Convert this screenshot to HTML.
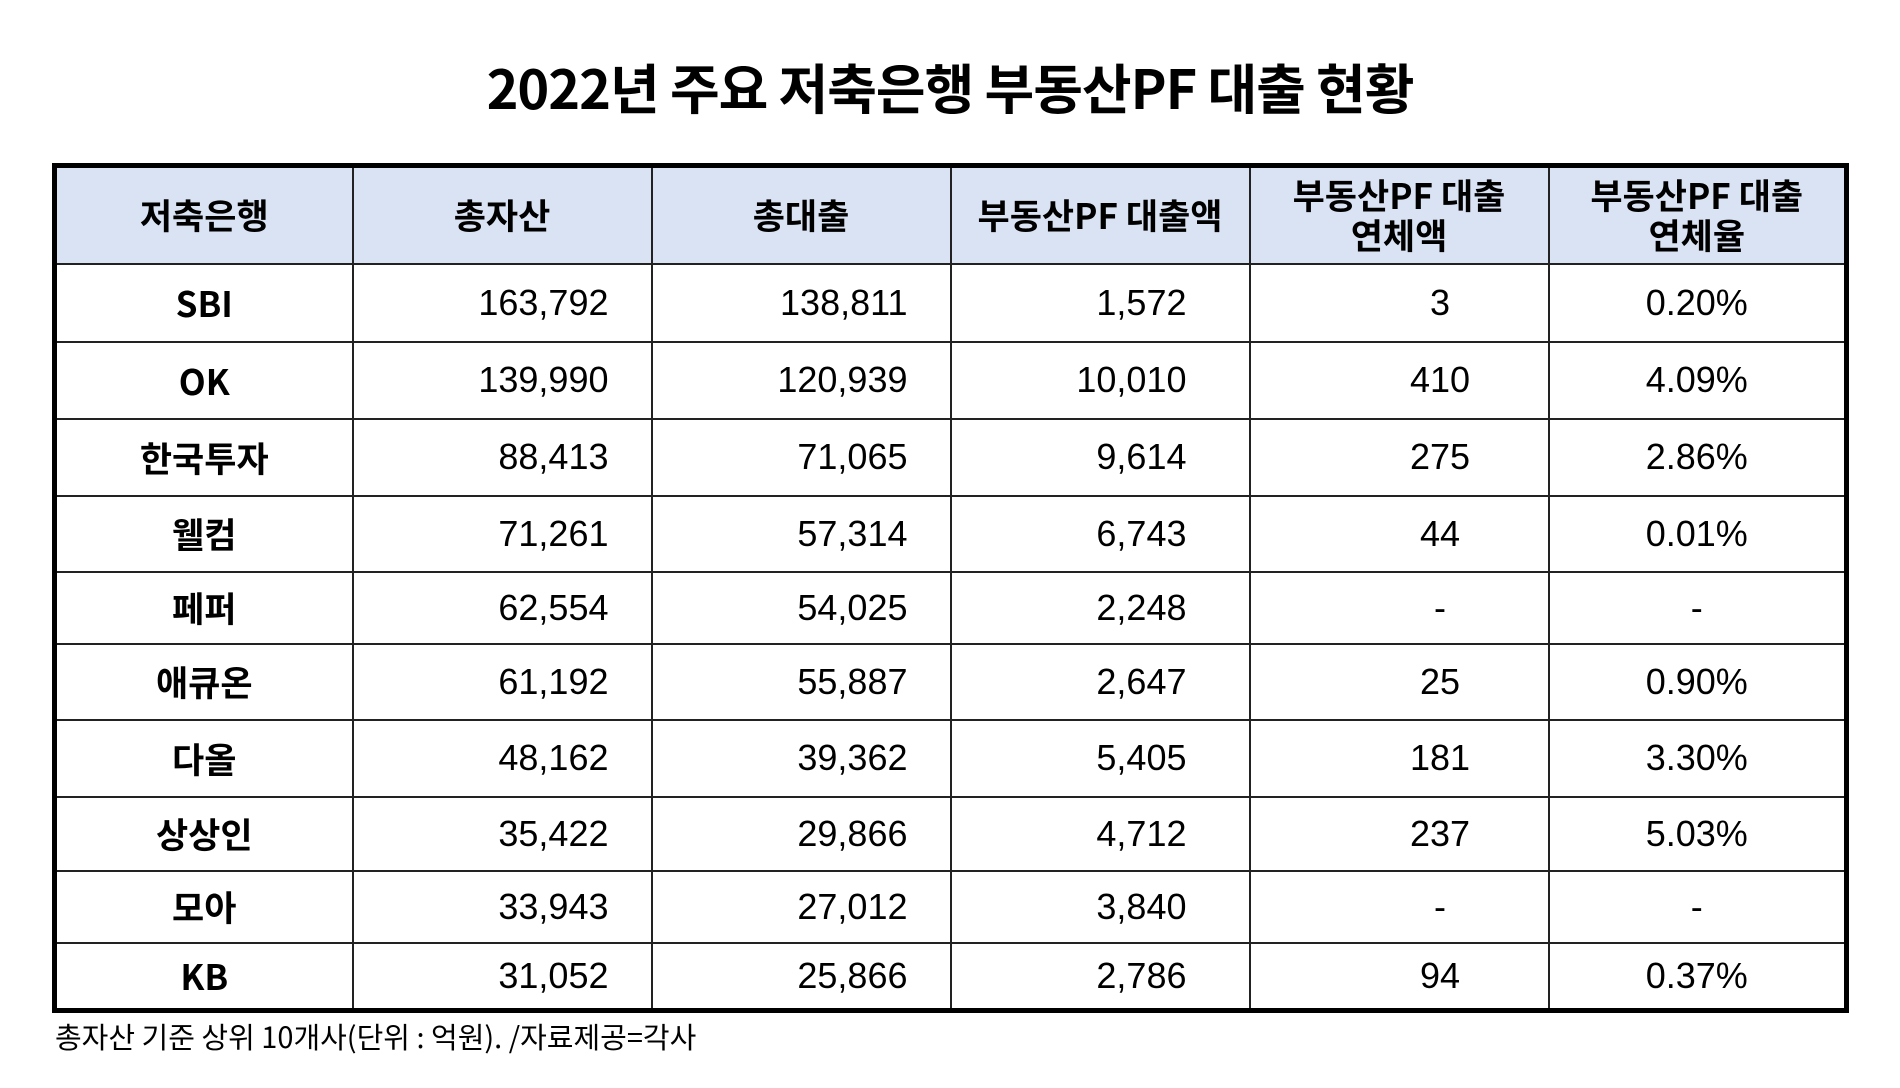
<!DOCTYPE html>
<html><head><meta charset="utf-8"><style>
body{margin:0;width:1900px;height:1088px;background:#fff;font-family:"Liberation Sans","Noto Sans CJK KR",sans-serif;position:relative;overflow:hidden}
.title{position:absolute;top:46px;left:0;width:1900px;text-align:center;font-size:54px;font-weight:bold;font-family:"Noto Sans CJK KR",sans-serif;letter-spacing:-1px}
table{position:absolute;left:52px;top:163px;border-collapse:collapse;border:5px solid #000;table-layout:fixed}
td,th{border:2px solid #222;font-size:36px;padding:0;white-space:nowrap}
th{background:#dae3f3;font-family:"Noto Sans CJK KR",sans-serif;font-weight:bold;line-height:40px;font-size:35px}
td:first-child{text-align:center;font-family:"Noto Sans CJK KR",sans-serif;font-weight:bold;font-size:35px}
td{text-align:right}
td.a{padding-right:42px}td.b{padding-right:62px}
td.c{text-align:center;padding-left:82px}
td.d{text-align:center}
.foot{position:absolute;left:55px;top:1015px;font-size:29px;font-family:"Noto Sans CJK KR",sans-serif}
</style></head><body>
<div class="title">2022년 주요 저축은행 부동산PF 대출 현황</div>
<table>
<colgroup><col style="width:298px"><col style="width:299px"><col style="width:299px"><col style="width:299px"><col style="width:299px"><col style="width:298px"></colgroup>
<tr style="height:98px"><th>저축은행</th><th>총자산</th><th>총대출</th><th>부동산PF 대출액</th><th>부동산PF 대출<br>연체액</th><th>부동산PF 대출<br>연체율</th></tr>
<tr style="height:78px"><td>SBI</td><td class="a">163,792</td><td class="a">138,811</td><td class="b">1,572</td><td class="c">3</td><td class="d">0.20%</td></tr>
<tr style="height:77px"><td>OK</td><td class="a">139,990</td><td class="a">120,939</td><td class="b">10,010</td><td class="c">410</td><td class="d">4.09%</td></tr>
<tr style="height:77px"><td>한국투자</td><td class="a">88,413</td><td class="a">71,065</td><td class="b">9,614</td><td class="c">275</td><td class="d">2.86%</td></tr>
<tr style="height:76px"><td>웰컴</td><td class="a">71,261</td><td class="a">57,314</td><td class="b">6,743</td><td class="c">44</td><td class="d">0.01%</td></tr>
<tr style="height:72px"><td>페퍼</td><td class="a">62,554</td><td class="a">54,025</td><td class="b">2,248</td><td class="c">-</td><td class="d">-</td></tr>
<tr style="height:76px"><td>애큐온</td><td class="a">61,192</td><td class="a">55,887</td><td class="b">2,647</td><td class="c">25</td><td class="d">0.90%</td></tr>
<tr style="height:77px"><td>다올</td><td class="a">48,162</td><td class="a">39,362</td><td class="b">5,405</td><td class="c">181</td><td class="d">3.30%</td></tr>
<tr style="height:74px"><td>상상인</td><td class="a">35,422</td><td class="a">29,866</td><td class="b">4,712</td><td class="c">237</td><td class="d">5.03%</td></tr>
<tr style="height:72px"><td>모아</td><td class="a">33,943</td><td class="a">27,012</td><td class="b">3,840</td><td class="c">-</td><td class="d">-</td></tr>
<tr style="height:68px"><td>KB</td><td class="a">31,052</td><td class="a">25,866</td><td class="b">2,786</td><td class="c">94</td><td class="d">0.37%</td></tr>
</table>
<div class="foot">총자산 기준 상위 10개사(단위 : 억원). /자료제공=각사</div>
</body></html>
